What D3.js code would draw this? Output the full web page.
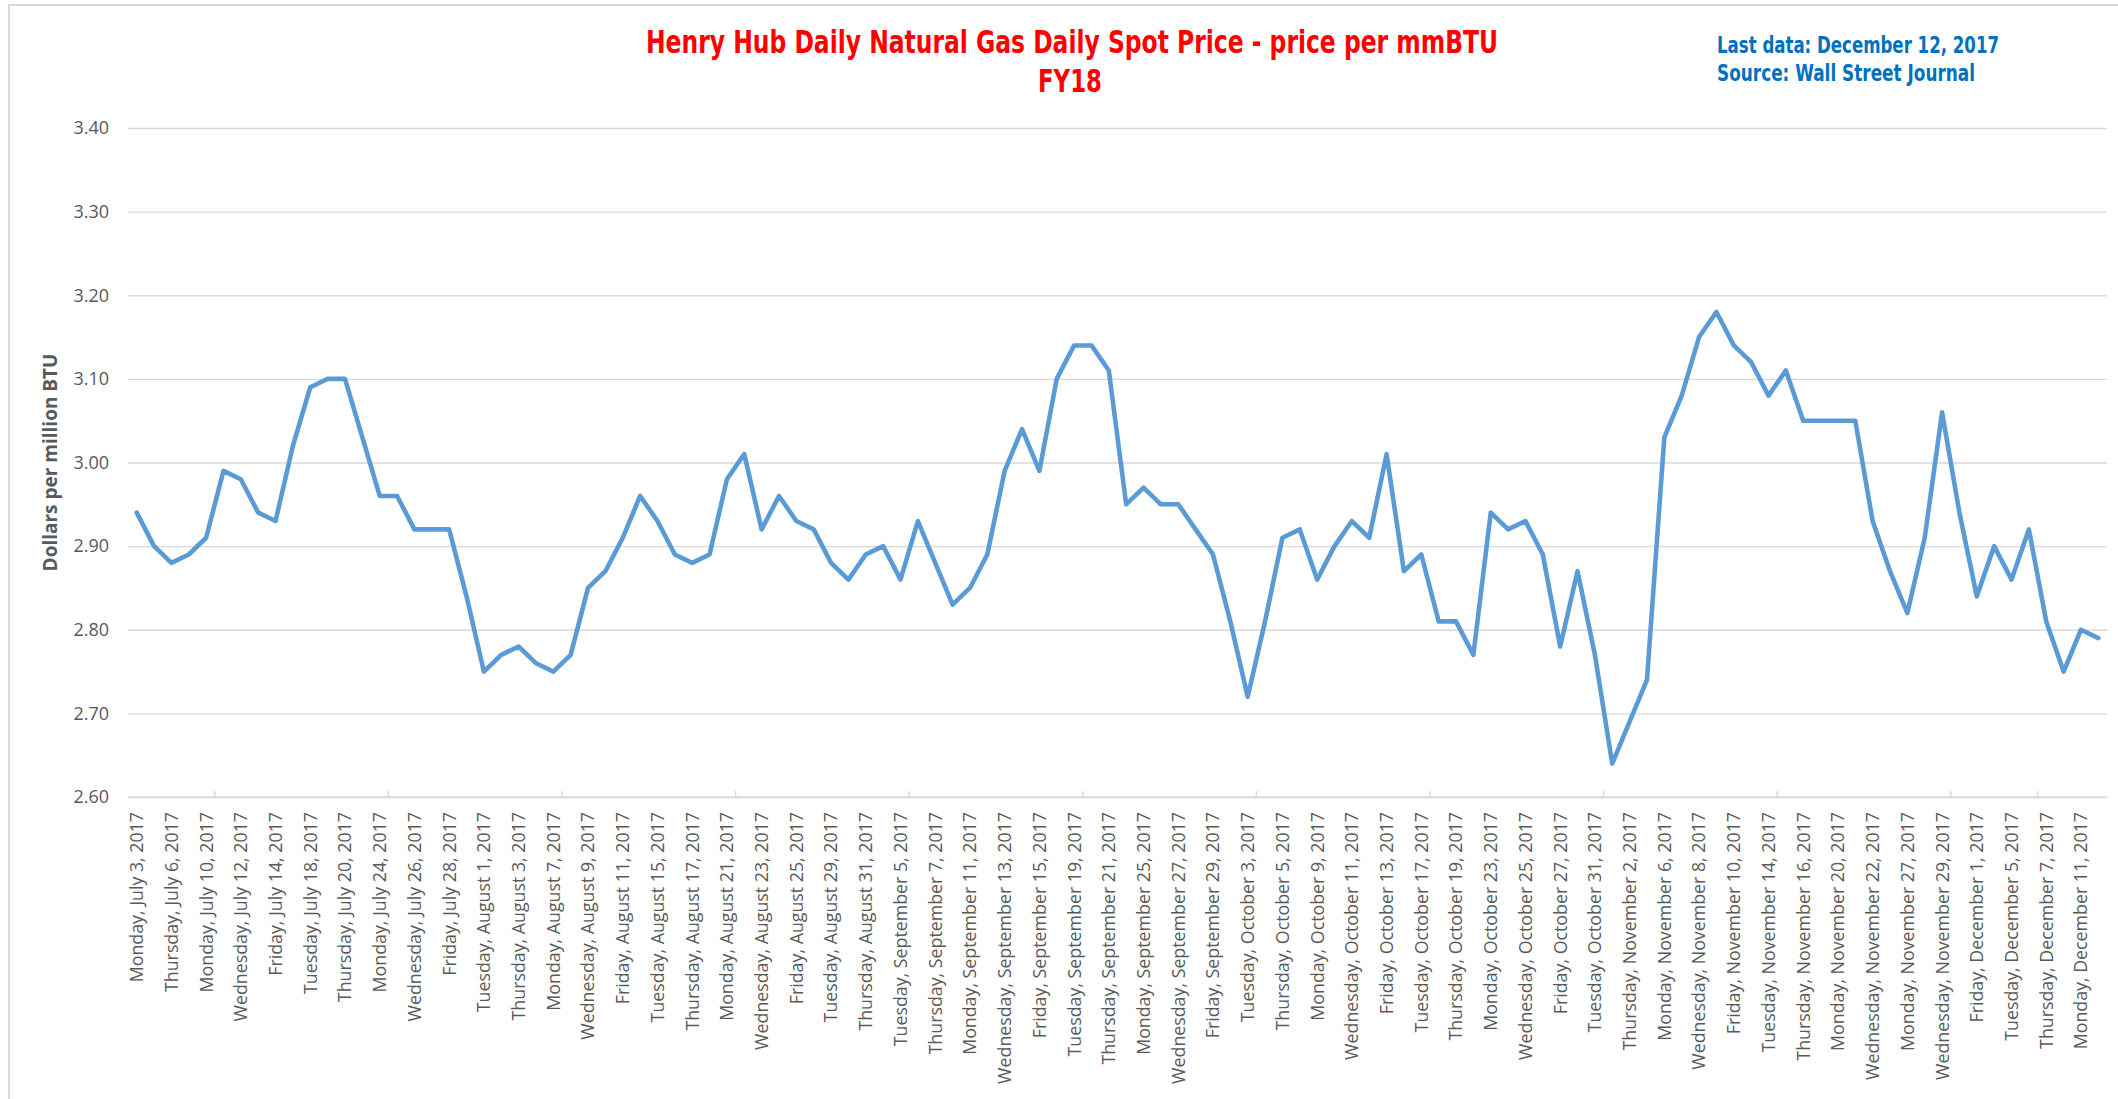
<!DOCTYPE html>
<html>
<head>
<meta charset="utf-8">
<script src="https://cdn.jsdelivr.net/npm/d3@7"></script>
<style>
  html, body { margin: 0; padding: 0; background: #ffffff; }
  svg { display: block; }
</style>
</head>
<body>
<div id="chart"></div>
<script>
// ---------- DATA ----------
const titleLines = ["Henry Hub Daily Natural Gas Daily Spot Price - price per mmBTU", "FY18"];
const noteLines = ["Last data: December 12, 2017", "Source: Wall Street Journal"];
const yAxisTitle = "Dollars per million BTU";

const tradingDays = [
  "2017-07-03","2017-07-05","2017-07-06","2017-07-07","2017-07-10","2017-07-11","2017-07-12","2017-07-13","2017-07-14",
  "2017-07-17","2017-07-18","2017-07-19","2017-07-20","2017-07-21","2017-07-24","2017-07-25","2017-07-26","2017-07-27",
  "2017-07-28","2017-07-31",
  "2017-08-01","2017-08-02","2017-08-03","2017-08-04","2017-08-07","2017-08-08","2017-08-09","2017-08-10","2017-08-11",
  "2017-08-14","2017-08-15","2017-08-16","2017-08-17","2017-08-18","2017-08-21","2017-08-22","2017-08-23","2017-08-24",
  "2017-08-25","2017-08-28","2017-08-29","2017-08-30","2017-08-31",
  "2017-09-01","2017-09-05","2017-09-06","2017-09-07","2017-09-08","2017-09-11","2017-09-12","2017-09-13","2017-09-14",
  "2017-09-15","2017-09-18","2017-09-19","2017-09-20","2017-09-21","2017-09-22","2017-09-25","2017-09-26","2017-09-27",
  "2017-09-28","2017-09-29",
  "2017-10-02","2017-10-03","2017-10-04","2017-10-05","2017-10-06","2017-10-09","2017-10-10","2017-10-11","2017-10-12",
  "2017-10-13","2017-10-16","2017-10-17","2017-10-18","2017-10-19","2017-10-20","2017-10-23","2017-10-24","2017-10-25",
  "2017-10-26","2017-10-27","2017-10-30","2017-10-31",
  "2017-11-01","2017-11-02","2017-11-03","2017-11-06","2017-11-07","2017-11-08","2017-11-09","2017-11-10","2017-11-13",
  "2017-11-14","2017-11-15","2017-11-16","2017-11-17","2017-11-20","2017-11-21","2017-11-22","2017-11-24","2017-11-27",
  "2017-11-28","2017-11-29","2017-11-30",
  "2017-12-01","2017-12-04","2017-12-05","2017-12-06","2017-12-07","2017-12-08","2017-12-11","2017-12-12"
];

const spotPrice = [
  2.94,2.90,2.88,2.89,2.91,2.99,2.98,2.94,2.93,3.02,
  3.09,3.10,3.10,3.03,2.96,2.96,2.92,2.92,2.92,2.84,
  2.75,2.77,2.78,2.76,2.75,2.77,2.85,2.87,2.91,2.96,
  2.93,2.89,2.88,2.89,2.98,3.01,2.92,2.96,2.93,2.92,
  2.88,2.86,2.89,2.90,2.86,2.93,2.88,2.83,2.85,2.89,
  2.99,3.04,2.99,3.10,3.14,3.14,3.11,2.95,2.97,2.95,
  2.95,2.92,2.89,2.81,2.72,2.81,2.91,2.92,2.86,2.90,
  2.93,2.91,3.01,2.87,2.89,2.81,2.81,2.77,2.94,2.92,
  2.93,2.89,2.78,2.87,2.77,2.64,2.69,2.74,3.03,3.08,
  3.15,3.18,3.14,3.12,3.08,3.11,3.05,3.05,3.05,3.05,
  2.93,2.87,2.82,2.91,3.06,2.94,2.84,2.90,2.86,2.92,
  2.81,2.75,2.80,2.79
];

const yTicks = [2.60, 2.70, 2.80, 2.90, 3.00, 3.10, 3.20, 3.30, 3.40];
// category labels are shown on every other trading day
const labelledDays = tradingDays.filter((d, i) => i % 2 === 0);
// axis tick marks sit before these trading days
const tickMarkDays = ["2017-07-11","2017-07-25","2017-08-08","2017-08-22","2017-09-06","2017-09-20",
  "2017-10-04","2017-10-18","2017-11-01","2017-11-15","2017-11-30","2017-12-07"];

// ---------- LAYOUT ----------
const W = 2118, H = 1099;
const plot = { left: 128, right: 2107, top: 128, bottom: 797 };
const FONT = "'Open Sans', 'Noto Sans', sans-serif";
const NARROW = "'Liberation Sans Narrow', 'Arial Narrow', 'DejaVu Sans Condensed', 'Roboto Condensed', sans-serif";

const svg = d3.select("#chart").append("svg")
  .attr("width", W).attr("height", H)
  .attr("viewBox", `0 0 ${W} ${H}`);

svg.append("rect").attr("x", 0).attr("y", 0).attr("width", W).attr("height", H).attr("fill", "#ffffff");
// chart area border
svg.append("rect").attr("x", 9).attr("y", 5).attr("width", W + 50).attr("height", H + 50)
  .attr("fill", "none").attr("stroke", "#D9D9D9").attr("stroke-width", 2);

const parse = d3.timeParse("%Y-%m-%d");
const fmt = d3.timeFormat("%A, %B %-d, %Y");

const x = d3.scaleBand().domain(tradingDays).range([plot.left, plot.right]).paddingInner(0).paddingOuter(0);
const y = d3.scaleLinear().domain([2.6, 3.4]).range([plot.bottom, plot.top]);
const cx = d => x(d) + x.bandwidth() / 2;

// gridlines + y labels
const yAxis = d3.axisLeft(y).tickValues(yTicks).tickFormat(d3.format(".2f"))
  .tickSize(-(plot.right - plot.left)).tickPadding(19);
const gy = svg.append("g").attr("transform", `translate(${plot.left},0)`).call(yAxis);
gy.select(".domain").remove();
gy.selectAll(".tick line").attr("stroke", "#D9D9D9").attr("stroke-width", 1.4);
gy.selectAll(".tick text").attr("fill", "#595959").style("font-family", FONT).style("font-size", "18px");

// x axis baseline
svg.append("line").attr("x1", plot.left).attr("x2", plot.right)
  .attr("y1", y(2.6)).attr("y2", y(2.6)).attr("stroke", "#D9D9D9").attr("stroke-width", 1.6);
// tick marks (upward)
svg.append("g").selectAll("line").data(tickMarkDays).join("line")
  .attr("x1", d => x(d)).attr("x2", d => x(d))
  .attr("y1", y(2.6)).attr("y2", y(2.6) - 6)
  .attr("stroke", "#D9D9D9").attr("stroke-width", 1.4);

// x labels
const xAxis = d3.axisBottom(x).tickValues(labelledDays).tickSize(0)
  .tickFormat(d => fmt(parse(d)));
const gx = svg.append("g").attr("transform", `translate(0,${plot.bottom})`).call(xAxis);
gx.select(".domain").remove();
gx.selectAll(".tick text")
  .attr("fill", "#595959")
  .style("font-family", FONT).style("font-size", "17.8px")
  .attr("text-anchor", "end")
  .attr("transform", "rotate(-90)")
  .attr("x", -15).attr("y", 0).attr("dy", "0.36em");

// line
const line = d3.line().x((d, i) => cx(tradingDays[i])).y(d => y(d));
svg.append("path").datum(spotPrice)
  .attr("d", line)
  .attr("fill", "none").attr("stroke", "#5B9BD5").attr("stroke-width", 4.6)
  .attr("stroke-linejoin", "round").attr("stroke-linecap", "round");

// title
svg.append("text").attr("x", 1072).attr("y", 53)
  .attr("text-anchor", "middle").attr("fill", "#FF0000")
  .style("font-family", NARROW).style("font-weight", "bold").style("font-size", "32px")
  .attr("textLength", 852).attr("lengthAdjust", "spacingAndGlyphs")
  .text(titleLines[0]);
svg.append("text").attr("x", 1070).attr("y", 92)
  .attr("text-anchor", "middle").attr("fill", "#FF0000")
  .style("font-family", NARROW).style("font-weight", "bold").style("font-size", "32px")
  .attr("textLength", 64).attr("lengthAdjust", "spacingAndGlyphs")
  .text(titleLines[1]);

// note (top right)
const noteWidths = [282, 258];
const noteBase = [53, 81];
noteLines.forEach((t, i) => {
  svg.append("text").attr("x", 1717).attr("y", noteBase[i])
    .attr("fill", "#0070C0")
    .style("font-family", NARROW).style("font-weight", "bold").style("font-size", "23px")
    .attr("textLength", noteWidths[i]).attr("lengthAdjust", "spacingAndGlyphs")
    .text(t);
});

// y axis title
svg.append("text")
  .attr("transform", `translate(57,${(plot.top + plot.bottom) / 2}) rotate(-90)`)
  .attr("text-anchor", "middle").attr("fill", "#595959")
  .style("font-family", FONT).style("font-weight", "bold").style("font-size", "19px")
  .text(yAxisTitle);
</script>
</body>
</html>
